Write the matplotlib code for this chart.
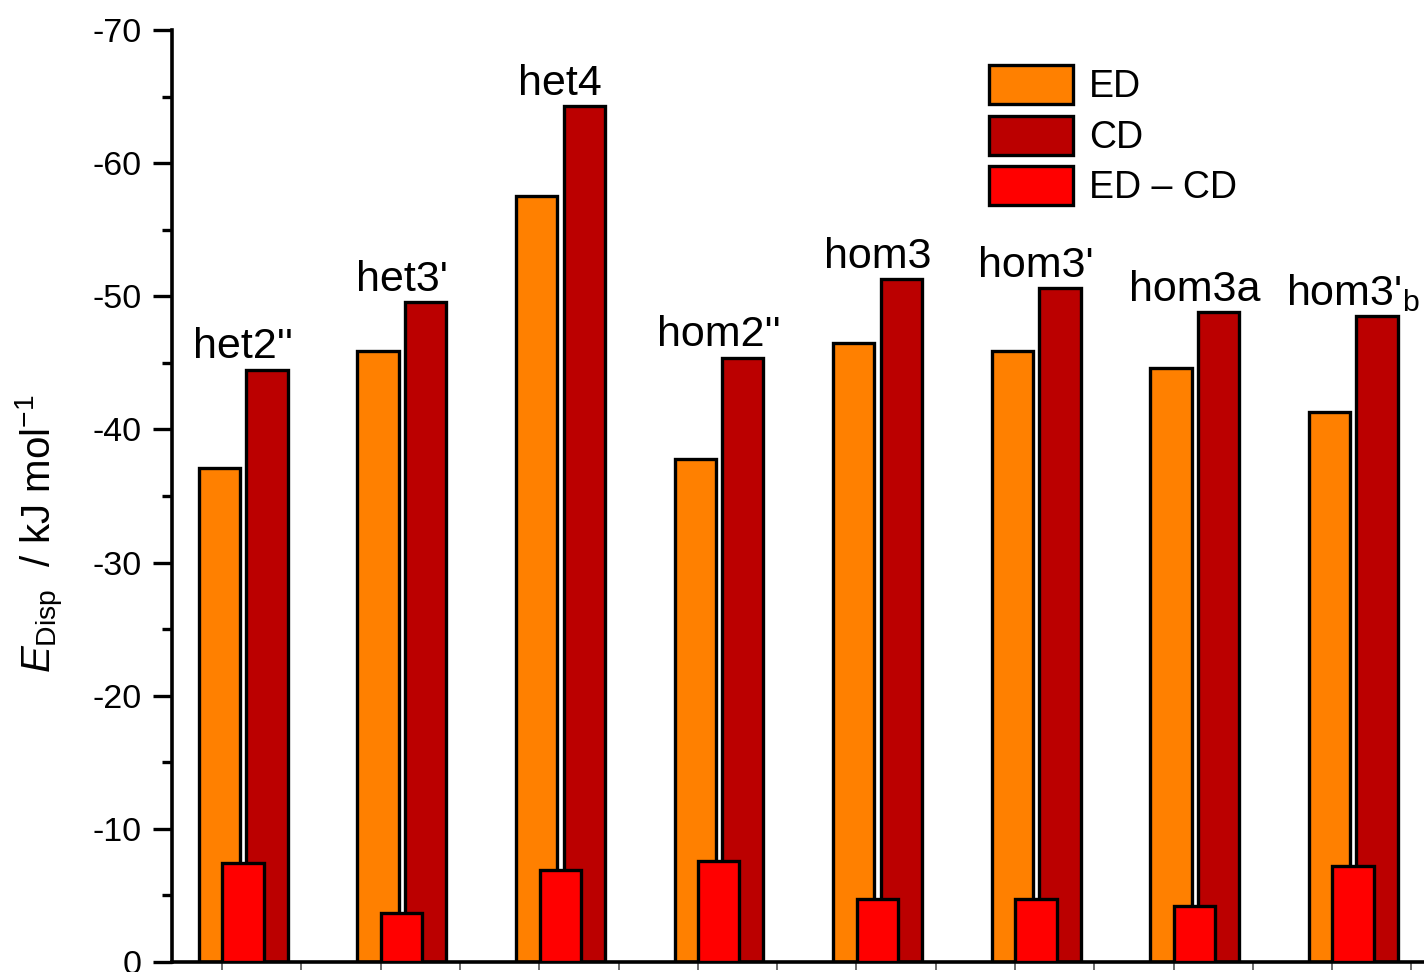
import numpy as np
import matplotlib
matplotlib.use("Agg")
import matplotlib.pyplot as plt

plt.rcParams['font.family'] = ['Liberation Sans', 'DejaVu Sans']
plt.rcParams['mathtext.fontset'] = 'custom'
plt.rcParams['mathtext.rm'] = 'Liberation Sans'
plt.rcParams['mathtext.it'] = 'Liberation Sans:italic'
plt.rcParams['axes.unicode_minus'] = False

# data (kJ/mol)
systems = ["het2''", "het3'", "het4", "hom2''", "hom3", "hom3'", "hom3a", "hom3'$_{\\mathrm{b}}$"]
ed = [-37.1, -45.9, -57.5, -37.8, -46.5, -45.9, -44.6, -41.3]
cd = [-44.5, -49.6, -64.3, -45.4, -51.3, -50.6, -48.8, -48.5]
diff = [-7.4, -3.7, -6.9, -7.6, -4.7, -4.7, -4.2, -7.2]
yticks = [0, -10, -20, -30, -40, -50, -60, -70]

x = np.arange(1, len(systems) + 1)
w = 0.26

fig = plt.figure(figsize=(14.24, 9.72), dpi=100)
ax = fig.add_axes([172 / 1424, 10 / 972, 1 - 172 / 1424, 932 / 972])

ax.bar(x - 0.149, ed, w, color='#FF8000', edgecolor='black', lw=2.4, label='ED', zorder=2)
ax.bar(x + 0.151, cd, w, color='#BB0000', edgecolor='black', lw=2.4, label='CD', zorder=2)
ax.bar(x, diff, w, color='#FF0000', edgecolor='black', lw=2.4, label='ED \u2013 CD', zorder=3)

for xi, c, s in zip(x, cd, systems):
    ax.annotate(s, (xi, c), xytext=(0, 8), textcoords='offset points',
                ha='center', va='baseline', fontsize=31)

ax.set_ylim(0, -70)
ax.set_xlim(0.552, 8.447)
ax.set_yticks(yticks)
ax.set_yticklabels([str(v) for v in yticks])
ax.set_yticks(np.arange(-5, -70, -10), minor=True)
ax.set_xticks(np.arange(0.868, 8.45, 0.5))
ax.set_xticklabels([])

for side in ['top', 'right']:
    ax.spines[side].set_visible(False)
for side in ['left', 'bottom']:
    ax.spines[side].set_linewidth(2.6)

ax.tick_params(axis='y', which='major', direction='out', length=14, width=2.4, pad=8, labelsize=24.5)
ax.tick_params(axis='y', which='minor', direction='out', length=7, width=2.4)
ax.tick_params(axis='x', which='major', direction='out', length=6, width=1.2, color='#555555')

fig.text(40 / 1424, 1 - 534 / 972, r'$E_{\mathrm{Disp}}$  / kJ mol$^{-1}$',
         rotation=90, ha='center', va='center', fontsize=29)

leg = ax.legend(loc='upper left', bbox_to_anchor=(989 / 1424, 1 - 65 / 972),
                bbox_transform=fig.transFigure, frameon=False, fontsize=27,
                handlelength=2.25, handleheight=1.22, handletextpad=0.42,
                labelspacing=0.28, borderpad=0, borderaxespad=0)

fig.savefig('out.png', dpi=100)
